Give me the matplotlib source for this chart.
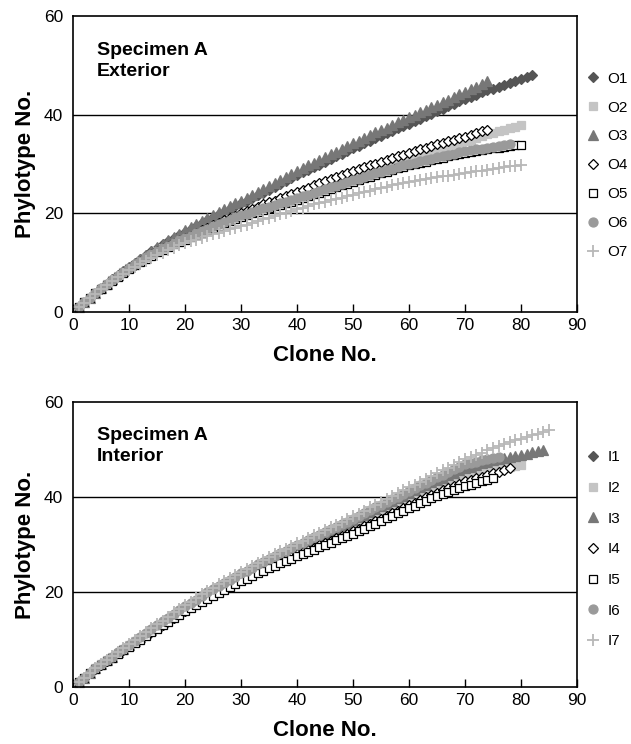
import matplotlib
matplotlib.use('Agg')
import matplotlib.pyplot as plt

plt.rcParams['font.family'] = ['Liberation Sans', 'DejaVu Sans']

# rarefaction values, one per clone (clone 1..N)
o1 = [1.0, 2.0, 2.9, 3.9, 4.8, 5.7, 6.6, 7.5, 8.3, 9.1,
      9.9, 10.7, 11.5, 12.3, 13.0, 13.7, 14.4, 15.0, 15.7, 16.3,
      16.9, 17.5, 18.1, 18.6, 19.2, 19.8, 20.3, 20.9, 21.4, 22.0,
      22.6, 23.1, 23.7, 24.2, 24.8, 25.4, 26.0, 26.5, 27.1, 27.7,
      28.3, 28.8, 29.4, 29.9, 30.5, 31.0, 31.6, 32.1, 32.7, 33.2,
      33.7, 34.2, 34.7, 35.2, 35.7, 36.2, 36.7, 37.2, 37.7, 38.2,
      38.7, 39.2, 39.7, 40.2, 40.7, 41.2, 41.7, 42.2, 42.7, 43.2,
      43.6, 44.0, 44.5, 44.9, 45.3, 45.7, 46.1, 46.4, 46.8, 47.2,
      47.6, 48.0]
o2 = [1.0, 2.0, 2.9, 3.8, 4.7, 5.6, 6.4, 7.3, 8.1, 8.9,
      9.6, 10.3, 11.0, 11.6, 12.3, 12.9, 13.4, 13.9, 14.5, 15.0,
      15.5, 16.0, 16.5, 17.0, 17.5, 18.0, 18.4, 18.9, 19.3, 19.8,
      20.2, 20.6, 21.1, 21.5, 21.9, 22.3, 22.7, 23.1, 23.5, 23.9,
      24.3, 24.7, 25.1, 25.5, 25.9, 26.3, 26.7, 27.0, 27.4, 27.8,
      28.2, 28.6, 28.9, 29.3, 29.7, 30.0, 30.4, 30.7, 31.1, 31.4,
      31.7, 32.0, 32.4, 32.7, 33.0, 33.3, 33.6, 34.0, 34.3, 34.6,
      34.9, 35.3, 35.6, 36.0, 36.3, 36.6, 36.9, 37.3, 37.6, 37.9]
o3 = [1.0, 2.0, 2.9, 3.9, 4.8, 5.7, 6.6, 7.5, 8.3, 9.1,
      9.9, 10.7, 11.5, 12.3, 13.1, 13.8, 14.5, 15.2, 15.9, 16.6,
      17.2, 17.8, 18.4, 19.0, 19.6, 20.2, 20.8, 21.4, 22.0, 22.6,
      23.2, 23.8, 24.3, 24.9, 25.5, 26.1, 26.7, 27.3, 27.9, 28.5,
      29.1, 29.7, 30.2, 30.8, 31.4, 32.0, 32.5, 33.1, 33.6, 34.2,
      34.7, 35.3, 35.8, 36.4, 36.9, 37.4, 37.9, 38.5, 39.0, 39.5,
      40.0, 40.5, 41.0, 41.5, 42.0, 42.5, 43.0, 43.6, 44.1, 44.6,
      45.2, 45.7, 46.3, 46.8]
o4 = [1.0, 2.0, 2.9, 3.8, 4.7, 5.6, 6.4, 7.3, 8.1, 8.9,
      9.6, 10.3, 11.0, 11.7, 12.3, 12.9, 13.4, 14.0, 14.5, 15.0,
      15.5, 16.0, 16.6, 17.1, 17.6, 18.1, 18.6, 19.0, 19.5, 20.0,
      20.4, 20.9, 21.3, 21.8, 22.2, 22.6, 23.1, 23.5, 24.0, 24.4,
      24.8, 25.2, 25.7, 26.1, 26.5, 26.9, 27.3, 27.7, 28.1, 28.5,
      28.9, 29.3, 29.7, 30.1, 30.5, 30.9, 31.2, 31.6, 31.9, 32.3,
      32.6, 33.0, 33.3, 33.7, 34.0, 34.3, 34.6, 34.9, 35.2, 35.5,
      35.9, 36.2, 36.6, 36.9]
o5 = [1.0, 2.0, 2.9, 3.8, 4.7, 5.5, 6.3, 7.2, 8.0, 8.8,
      9.5, 10.1, 10.8, 11.4, 12.1, 12.6, 13.1, 13.7, 14.2, 14.7,
      15.2, 15.7, 16.1, 16.6, 17.1, 17.5, 18.0, 18.4, 18.9, 19.3,
      19.6, 20.0, 20.3, 20.7, 21.0, 21.4, 21.7, 22.1, 22.4, 22.8,
      23.2, 23.5, 23.9, 24.2, 24.6, 25.0, 25.3, 25.7, 26.0, 26.4,
      26.7, 27.1, 27.4, 27.8, 28.1, 28.4, 28.7, 29.1, 29.4, 29.7,
      30.0, 30.3, 30.5, 30.8, 31.1, 31.3, 31.6, 31.8, 32.1, 32.3,
      32.5, 32.7, 32.8, 33.0, 33.2, 33.3, 33.5, 33.6, 33.8, 33.9]
o6 = [1.0, 2.0, 2.9, 3.9, 4.8, 5.7, 6.5, 7.4, 8.2, 9.0,
      9.7, 10.4, 11.1, 11.7, 12.4, 12.9, 13.4, 14.0, 14.5, 15.0,
      15.5, 16.0, 16.4, 16.9, 17.4, 17.8, 18.3, 18.7, 19.2, 19.6,
      19.9, 20.3, 20.6, 21.0, 21.3, 21.7, 22.0, 22.4, 22.7, 23.1,
      23.5, 23.8, 24.2, 24.5, 24.9, 25.3, 25.6, 26.0, 26.3, 26.7,
      27.0, 27.4, 27.7, 28.1, 28.4, 28.7, 29.0, 29.4, 29.7, 30.0,
      30.3, 30.6, 30.8, 31.1, 31.4, 31.6, 31.9, 32.1, 32.4, 32.6,
      32.8, 33.0, 33.1, 33.3, 33.5, 33.6, 33.8, 34.0]
o7 = [1.0, 1.9, 2.8, 3.7, 4.6, 5.4, 6.2, 7.0, 7.7, 8.5,
      9.1, 9.7, 10.3, 10.9, 11.5, 12.0, 12.5, 13.0, 13.5, 14.0,
      14.4, 14.7, 15.1, 15.4, 15.8, 16.1, 16.4, 16.8, 17.1, 17.4,
      17.7, 18.1, 18.4, 18.8, 19.1, 19.4, 19.8, 20.1, 20.5, 20.8,
      21.1, 21.5, 21.8, 22.1, 22.4, 22.7, 23.0, 23.2, 23.5, 23.8,
      24.1, 24.4, 24.6, 24.9, 25.2, 25.4, 25.7, 25.9, 26.2, 26.4,
      26.6, 26.8, 26.9, 27.1, 27.3, 27.5, 27.6, 27.8, 27.9, 28.1,
      28.3, 28.5, 28.6, 28.8, 29.0, 29.2, 29.3, 29.5, 29.6, 29.8]

i1 = [1.0, 2.0, 2.9, 3.9, 4.8, 5.6, 6.4, 7.3, 8.1, 8.9,
      9.7, 10.5, 11.2, 12.0, 12.8, 13.6, 14.4, 15.1, 15.9, 16.7,
      17.4, 18.1, 18.8, 19.5, 20.2, 20.9, 21.5, 22.2, 22.8, 23.5,
      24.1, 24.7, 25.3, 25.9, 26.5, 27.1, 27.6, 28.2, 28.7, 29.3,
      29.8, 30.4, 30.9, 31.5, 32.0, 32.5, 33.1, 33.6, 34.2, 34.7,
      35.2, 35.8, 36.3, 36.9, 37.4, 38.0, 38.5, 39.1, 39.6, 40.2,
      40.7, 41.2, 41.8, 42.3, 42.8, 43.3, 43.8, 44.2, 44.7, 45.2,
      45.5, 45.8, 46.1, 46.4, 46.7, 47.0, 47.2]
i2 = [1.0, 2.0, 2.9, 3.9, 4.8, 5.6, 6.4, 7.2, 8.0, 8.8,
      9.6, 10.4, 11.1, 11.9, 12.7, 13.5, 14.3, 15.0, 15.8, 16.5,
      17.2, 17.9, 18.6, 19.3, 20.0, 20.7, 21.3, 22.0, 22.6, 23.3,
      23.9, 24.5, 25.0, 25.6, 26.2, 26.8, 27.3, 27.9, 28.4, 29.0,
      29.5, 30.0, 30.6, 31.1, 31.6, 32.1, 32.6, 33.2, 33.7, 34.2,
      34.7, 35.3, 35.8, 36.4, 36.9, 37.5, 38.0, 38.6, 39.1, 39.7,
      40.2, 40.7, 41.1, 41.6, 42.1, 42.5, 42.9, 43.4, 43.8, 44.2,
      44.5, 44.8, 45.1, 45.4, 45.7, 45.9, 46.1, 46.4, 46.6, 46.8]
i3 = [1.0, 2.0, 2.9, 3.9, 4.8, 5.6, 6.4, 7.3, 8.1, 8.9,
      9.7, 10.5, 11.3, 12.1, 12.9, 13.7, 14.5, 15.3, 16.1, 16.9,
      17.6, 18.3, 19.0, 19.7, 20.4, 21.1, 21.7, 22.4, 23.0, 23.7,
      24.3, 24.9, 25.6, 26.2, 26.8, 27.4, 28.0, 28.5, 29.1, 29.7,
      30.2, 30.8, 31.3, 31.9, 32.4, 32.9, 33.5, 34.0, 34.6, 35.1,
      35.7, 36.3, 36.8, 37.4, 38.0, 38.6, 39.2, 39.7, 40.3, 40.9,
      41.4, 42.0, 42.5, 43.1, 43.6, 44.1, 44.6, 45.1, 45.6, 46.1,
      46.4, 46.8, 47.1, 47.4, 47.7, 47.9, 48.2, 48.4, 48.7, 48.9,
      49.1, 49.4, 49.6, 49.8]
i4 = [1.0, 1.9, 2.9, 3.8, 4.7, 5.5, 6.3, 7.1, 7.8, 8.6,
      9.4, 10.1, 10.9, 11.6, 12.4, 13.1, 13.9, 14.6, 15.4, 16.1,
      16.8, 17.5, 18.1, 18.8, 19.5, 20.1, 20.7, 21.4, 22.0, 22.6,
      23.1, 23.7, 24.2, 24.8, 25.3, 25.8, 26.4, 26.9, 27.4, 27.9,
      28.4, 28.9, 29.3, 29.8, 30.3, 30.8, 31.3, 31.8, 32.3, 32.8,
      33.3, 33.8, 34.4, 34.9, 35.4, 36.0, 36.6, 37.1, 37.7, 38.3,
      38.8, 39.3, 39.9, 40.4, 40.9, 41.4, 41.9, 42.3, 42.8, 43.3,
      43.6, 44.0, 44.3, 44.7, 45.0, 45.3, 45.7, 46.0]
i5 = [1.0, 1.9, 2.9, 3.8, 4.7, 5.5, 6.2, 7.0, 7.7, 8.5,
      9.3, 10.0, 10.8, 11.5, 12.3, 13.0, 13.7, 14.5, 15.2, 15.9,
      16.6, 17.2, 17.9, 18.5, 19.2, 19.8, 20.4, 21.1, 21.7, 22.3,
      22.8, 23.4, 23.9, 24.5, 25.0, 25.5, 26.0, 26.5, 27.0, 27.5,
      28.0, 28.5, 28.9, 29.4, 29.9, 30.4, 30.9, 31.3, 31.8, 32.3,
      32.8, 33.3, 33.9, 34.4, 34.9, 35.5, 36.0, 36.6, 37.1, 37.7,
      38.2, 38.7, 39.2, 39.7, 40.2, 40.6, 41.0, 41.5, 41.9, 42.3,
      42.6, 43.0, 43.3, 43.6, 43.9]
i6 = [1.0, 2.0, 2.9, 3.9, 4.8, 5.6, 6.4, 7.3, 8.1, 8.9,
      9.7, 10.5, 11.4, 12.2, 13.0, 13.8, 14.6, 15.4, 16.2, 17.0,
      17.7, 18.4, 19.2, 19.9, 20.6, 21.3, 21.9, 22.6, 23.2, 23.9,
      24.5, 25.1, 25.8, 26.4, 27.0, 27.6, 28.2, 28.7, 29.3, 29.9,
      30.4, 31.0, 31.5, 32.1, 32.6, 33.2, 33.7, 34.3, 34.8, 35.4,
      36.0, 36.6, 37.2, 37.8, 38.4, 39.0, 39.6, 40.1, 40.7, 41.3,
      41.9, 42.5, 43.0, 43.6, 44.2, 44.7, 45.3, 45.8, 46.4, 46.9,
      47.2, 47.4, 47.7, 47.9, 48.2, 48.4]
i7 = [1.0, 2.0, 2.9, 3.9, 4.8, 5.6, 6.5, 7.3, 8.2, 9.0,
      9.8, 10.7, 11.5, 12.4, 13.2, 14.0, 14.8, 15.7, 16.5, 17.3,
      18.0, 18.7, 19.5, 20.2, 20.9, 21.6, 22.3, 22.9, 23.6, 24.3,
      24.9, 25.5, 26.2, 26.8, 27.4, 28.0, 28.6, 29.1, 29.7, 30.3,
      30.8, 31.4, 31.9, 32.5, 33.0, 33.6, 34.2, 34.7, 35.3, 35.9,
      36.5, 37.1, 37.8, 38.4, 39.0, 39.6, 40.2, 40.8, 41.4, 42.0,
      42.6, 43.2, 43.8, 44.4, 45.0, 45.6, 46.2, 46.7, 47.3, 47.9,
      48.4, 48.9, 49.3, 49.8, 50.3, 50.7, 51.1, 51.5, 51.9, 52.3,
      52.6, 53.0, 53.3, 53.7, 54.0]

ext_names = ['O1', 'O2', 'O3', 'O4', 'O5', 'O6', 'O7']
int_names = ['I1', 'I2', 'I3', 'I4', 'I5', 'I6', 'I7']

# marker, size, face, edge
styles = [('D', 5.5, '#555555', '#555555'),
          ('s', 6.0, '#c4c4c4', '#c4c4c4'),
          ('^', 7.0, '#777777', '#777777'),
          ('D', 5.5, 'white', 'black'),
          ('s', 6.0, 'white', 'black'),
          ('o', 6.5, '#9a9a9a', '#9a9a9a'),
          ('+', 8.0, '#b8b8b8', '#b8b8b8')]

fig = plt.figure(figsize=(6.31, 7.44), dpi=100)
ax1 = fig.add_axes([0.1157, 0.5806, 0.7987, 0.3979])
ax2 = fig.add_axes([0.1157, 0.0766, 0.7987, 0.3831])


def plot_panel(ax, series, names, title, leg_top, leg_space):
    for ys, name, (m, ms, fc, ec) in zip(series, names, styles):
        xs = list(range(1, len(ys) + 1))
        ax.plot(xs, ys, linestyle='none', marker=m, markersize=ms,
                markerfacecolor=fc, markeredgecolor=ec,
                markeredgewidth=1.3 if m == '+' else 0.9, label=name,
                clip_on=False)
    ax.set_xlim(0, 90)
    ax.set_ylim(0, 60)
    ax.set_xticks(range(0, 91, 10))
    ax.set_yticks([0, 20, 40, 60])
    for g in (20, 40):
        ax.axhline(g, color='black', lw=1.0, zorder=0)
    ax.tick_params(axis='x', direction='in', length=6, width=1, labelsize=12.5, pad=4)
    ax.tick_params(axis='y', direction='out', length=0, labelsize=12.5, pad=7)
    for s in ax.spines.values():
        s.set_linewidth(1.2)
    ax.set_xlabel('Clone No.', fontsize=16, fontweight='bold', labelpad=9)
    ax.set_ylabel('Phylotype No.', fontsize=16, fontweight='bold', labelpad=6)
    ax.text(4.3, 54.8, title, fontsize=14, fontweight='bold', va='top',
            linespacing=1.3)
    ax.legend(loc='upper left', bbox_to_anchor=(1.022, leg_top), frameon=False,
              fontsize=11, handlelength=0.7, handletextpad=0.55,
              labelspacing=leg_space, borderaxespad=0, borderpad=0)


plot_panel(ax1, [o1, o2, o3, o4, o5, o6, o7], ext_names,
           'Specimen A\nExterior', 0.812, 0.975)
plot_panel(ax2, [i1, i2, i3, i4, i5, i6, i7], int_names,
           'Specimen A\nInterior', 0.83, 1.09)

fig.savefig('out.png', dpi=100)
